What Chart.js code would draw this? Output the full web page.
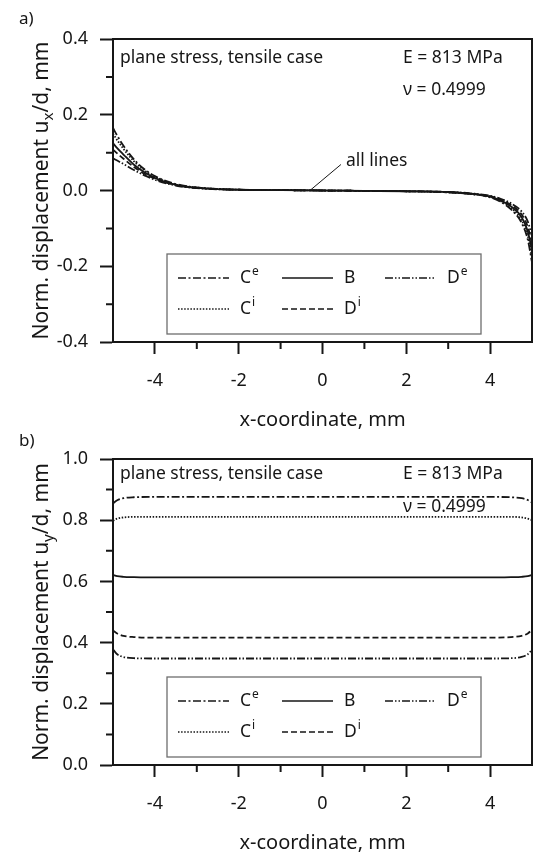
<!DOCTYPE html>
<html>
<head>
<meta charset="utf-8">
<script src="https://cdn.jsdelivr.net/npm/chart.js@4.4.1/dist/chart.umd.min.js"></script>
<style>
  html, body { margin: 0; padding: 0; background: #fff; }
  #wrap { position: relative; width: 536px; height: 853px; }
  canvas { position: absolute; left: 0; }
  #top { top: 0; }
  #bottom { top: 430px; }
</style>
</head>
<body>
<div id="wrap">
  <canvas id="top" width="536" height="430"></canvas>
  <canvas id="bottom" width="536" height="423"></canvas>
</div>
<script>
// a) horizontal displacement ux/d along x
const xTop = [-5, -4.9, -4.75, -4.5, -4.25, -4, -3.5, -3, -2, -1, 0, 1, 2, 3, 3.5, 4, 4.25, 4.5, 4.75, 4.9, 5];
const uxCe = [0.165, 0.145, 0.118, 0.082, 0.056, 0.038, 0.017, 0.008, 0.002, 0.001, 0, -0.001, -0.002, -0.005, -0.009, -0.018, -0.030, -0.050, -0.085, -0.130, -0.190];
const uxCi = [0.150, 0.133, 0.110, 0.077, 0.053, 0.036, 0.016, 0.008, 0.002, 0.001, 0, -0.001, -0.002, -0.005, -0.009, -0.017, -0.028, -0.046, -0.078, -0.120, -0.175];
const uxB  = [0.125, 0.112, 0.095, 0.068, 0.048, 0.033, 0.015, 0.007, 0.002, 0.001, 0, -0.001, -0.002, -0.004, -0.008, -0.016, -0.026, -0.042, -0.070, -0.108, -0.158];
const uxDi = [0.108, 0.098, 0.084, 0.062, 0.044, 0.031, 0.014, 0.007, 0.002, 0.001, 0, -0.001, -0.002, -0.004, -0.008, -0.015, -0.024, -0.038, -0.063, -0.096, -0.140];
const uxDe = [0.085, 0.079, 0.070, 0.054, 0.040, 0.028, 0.013, 0.006, 0.002, 0.001, 0, -0.001, -0.002, -0.004, -0.007, -0.014, -0.022, -0.034, -0.055, -0.082, -0.120];

// b) vertical displacement uy/d along x
const xBottom = [-5, -4.9, -4.75, -4.5, -4, 0, 4, 4.5, 4.75, 4.9, 5];
const uyCe = [0.855, 0.865, 0.872, 0.875, 0.876, 0.876, 0.876, 0.875, 0.872, 0.866, 0.858];
const uyCi = [0.798, 0.805, 0.809, 0.811, 0.811, 0.811, 0.811, 0.811, 0.809, 0.805, 0.800];
const uyB  = [0.621, 0.617, 0.615, 0.614, 0.613, 0.613, 0.613, 0.614, 0.615, 0.617, 0.621];
const uyDi = [0.440, 0.430, 0.422, 0.418, 0.416, 0.416, 0.416, 0.418, 0.422, 0.430, 0.442];
const uyDe = [0.378, 0.362, 0.353, 0.349, 0.348, 0.348, 0.348, 0.349, 0.353, 0.362, 0.377];

const seriesNames = ['Ce', 'Ci', 'B', 'Di', 'De'];
const xMajor = [-4, -2, 0, 2, 4];
const xMinor = [-3, -1, 1, 3];
const yMajorTop = [-0.4, -0.2, 0, 0.2, 0.4];
const yMinorTop = [-0.3, -0.1, 0.1, 0.3];
const yMajorBottom = [0, 0.2, 0.4, 0.6, 0.8, 1.0];
const yMinorBottom = [0.1, 0.3, 0.5, 0.7, 0.9];

const INK = '#161616';
const FONT = '"Noto Sans", "Open Sans", sans-serif';
const dashes = { Ce: [8, 2.5, 2, 2.5], Ci: [1.5, 1.6], B: [], Di: [6, 3], De: [8, 2, 1.5, 2, 1.5, 2] };

Chart.defaults.font.family = FONT;
Chart.defaults.color = INK;

function makeDatasets(xs, values) {
  return seriesNames.map(n => ({
    label: n,
    data: xs.map((x, i) => ({ x: x, y: values[n][i] })),
    borderColor: INK,
    borderWidth: 1.8,
    borderDash: dashes[n],
    pointRadius: 0,
    fill: false,
    cubicInterpolationMode: 'monotone'
  }));
}

function drawYTitle(ctx, parts, x, y) {
  ctx.save();
  ctx.translate(x, y);
  ctx.rotate(-Math.PI / 2);
  ctx.fillStyle = INK;
  ctx.textAlign = 'left';
  ctx.textBaseline = 'alphabetic';
  let total = 0;
  parts.forEach(p => {
    ctx.font = (p.sub ? 15 : 21) + 'px ' + FONT;
    p.w = ctx.measureText(p.t).width;
    total += p.w;
  });
  let cx = -total / 2;
  parts.forEach(p => {
    ctx.font = (p.sub ? 15 : 21) + 'px ' + FONT;
    ctx.fillText(p.t, cx, p.sub ? 5 : 0);
    cx += p.w;
  });
  ctx.restore();
}

function drawSupLabel(ctx, name, x, y) {
  ctx.textAlign = 'left';
  ctx.textBaseline = 'middle';
  ctx.font = '17.5px ' + FONT;
  ctx.fillText(name[0], x, y);
  if (name.length > 1) {
    const w = ctx.measureText(name[0]).width;
    ctx.font = '12px ' + FONT;
    ctx.fillText(name[1], x + w + 1, y - 6);
  }
}

// legend layout: [name, column, row]
const legendItems = [['Ce', 0, 0], ['B', 1, 0], ['De', 2, 0], ['Ci', 0, 1], ['Di', 1, 1]];
const legendCols = [11, 115, 218];

const panelPlugin = {
  id: 'panel',
  afterDraw(chart, args, o) {
    const ctx = chart.ctx;
    const ca = chart.chartArea;
    const xs = chart.scales.x, ys = chart.scales.y;
    ctx.save();
    ctx.strokeStyle = INK;
    ctx.lineWidth = 2;
    // top and right frame
    ctx.beginPath();
    ctx.moveTo(ca.left, ca.top);
    ctx.lineTo(ca.right, ca.top);
    ctx.lineTo(ca.right, ca.bottom);
    ctx.stroke();
    // minor ticks
    ctx.beginPath();
    xMinor.forEach(v => {
      const px = xs.getPixelForValue(v);
      ctx.moveTo(px, ca.bottom);
      ctx.lineTo(px, ca.bottom + 7);
    });
    o.yMinor.forEach(v => {
      const py = ys.getPixelForValue(v);
      ctx.moveTo(ca.left - 7, py);
      ctx.lineTo(ca.left, py);
    });
    ctx.stroke();

    // legend box
    const lx = ca.left + 54, lw = ca.right - 51 - lx, lh = 80, ly = ca.bottom - 8 - lh;
    ctx.fillStyle = '#fff';
    ctx.fillRect(lx, ly, lw, lh);
    ctx.strokeStyle = '#6e6e6e';
    ctx.lineWidth = 1.3;
    ctx.strokeRect(lx, ly, lw, lh);
    ctx.fillStyle = INK;
    legendItems.forEach(([n, c, r]) => {
      const ds = chart.data.datasets.find(d => d.label === n);
      const sx = lx + legendCols[c];
      const sy = ly + (r === 0 ? 24 : 55);
      ctx.strokeStyle = INK;
      ctx.lineWidth = 1.6;
      ctx.setLineDash(ds.borderDash);
      ctx.beginPath();
      ctx.moveTo(sx, sy);
      ctx.lineTo(sx + 51, sy);
      ctx.stroke();
      ctx.setLineDash([]);
      drawSupLabel(ctx, n, sx + 62, sy);
    });

    // annotation texts
    ctx.fillStyle = INK;
    ctx.textAlign = 'left';
    ctx.textBaseline = 'middle';
    ctx.font = '17.5px ' + FONT;
    ctx.fillText('plane stress, tensile case', ca.left + 7, ca.top + o.textDy[0]);
    ctx.fillText('E = 813 MPa', ca.left + 290, ca.top + o.textDy[0]);
    ctx.fillText('\u03bd = 0.4999', ca.left + 290, ca.top + o.textDy[1]);

    if (o.allLines) {
      const px = xs.getPixelForValue(o.allLines[0]);
      const py = ys.getPixelForValue(o.allLines[1]);
      ctx.strokeStyle = INK;
      ctx.lineWidth = 1;
      ctx.beginPath();
      ctx.moveTo(px, py);
      ctx.lineTo(px + 31, py - 26);
      ctx.stroke();
      ctx.fillText('all lines', px + 36, py - 29);
    }

    // y title and panel letter
    drawYTitle(ctx, o.yTitle, 48, (ca.top + ca.bottom) / 2);
    ctx.font = '17px ' + FONT;
    ctx.fillText(o.letter, 19, o.letterY);
    ctx.restore();
  }
};

function makeChart(id, xs, values, cfg) {
  return new Chart(document.getElementById(id), {
    type: 'line',
    data: { datasets: makeDatasets(xs, values) },
    plugins: [panelPlugin],
    options: {
      responsive: false,
      animation: false,
      layout: { padding: { top: cfg.padTop, right: 4, left: 0, bottom: 0 } },
      plugins: {
        legend: { display: false },
        tooltip: { enabled: false },
        panel: cfg.panel
      },
      scales: {
        x: {
          type: 'linear',
          min: -5,
          max: 5,
          afterBuildTicks: axis => { axis.ticks = xMajor.map(v => ({ value: v })); },
          afterFit: s => { s.height = 88; },
          ticks: { padding: 16, font: { size: 18 }, color: INK, callback: v => String(v) },
          grid: { drawOnChartArea: false, drawTicks: true, tickLength: 12, tickColor: INK, tickWidth: 2 },
          border: { display: true, color: INK, width: 2 },
          title: { display: true, text: 'x-coordinate, mm', font: { size: 20, lineHeight: 1 }, padding: { top: 0, bottom: 0 }, color: INK }
        },
        y: {
          type: 'linear',
          min: cfg.yMin,
          max: cfg.yMax,
          afterBuildTicks: axis => { axis.ticks = cfg.yMajor.map(v => ({ value: v })); },
          afterFit: s => { s.width = 113; },
          ticks: { padding: 12, font: { size: 18 }, color: INK, callback: v => v.toFixed(1) },
          grid: { drawOnChartArea: false, drawTicks: true, tickLength: 13, tickColor: INK, tickWidth: 2 },
          border: { display: true, color: INK, width: 2 }
        }
      }
    }
  });
}

makeChart('top', xTop, { Ce: uxCe, Ci: uxCi, B: uxB, Di: uxDi, De: uxDe }, {
  padTop: 39, yMin: -0.4, yMax: 0.4, yMajor: yMajorTop,
  panel: {
    yMinor: yMinorTop,
    textDy: [19, 51],
    allLines: [-0.3, 0],
    yTitle: [{ t: 'Norm. displacement u' }, { t: 'x', sub: true }, { t: '/d, mm' }],
    letter: 'a)',
    letterY: 19
  }
});

makeChart('bottom', xBottom, { Ce: uyCe, Ci: uyCi, B: uyB, Di: uyDi, De: uyDe }, {
  padTop: 29, yMin: 0, yMax: 1.0, yMajor: yMajorBottom,
  panel: {
    yMinor: yMinorBottom,
    textDy: [15, 48],
    allLines: null,
    yTitle: [{ t: 'Norm. displacement u' }, { t: 'y', sub: true }, { t: '/d, mm' }],
    letter: 'b)',
    letterY: 11
  }
});
</script>
</body>
</html>
